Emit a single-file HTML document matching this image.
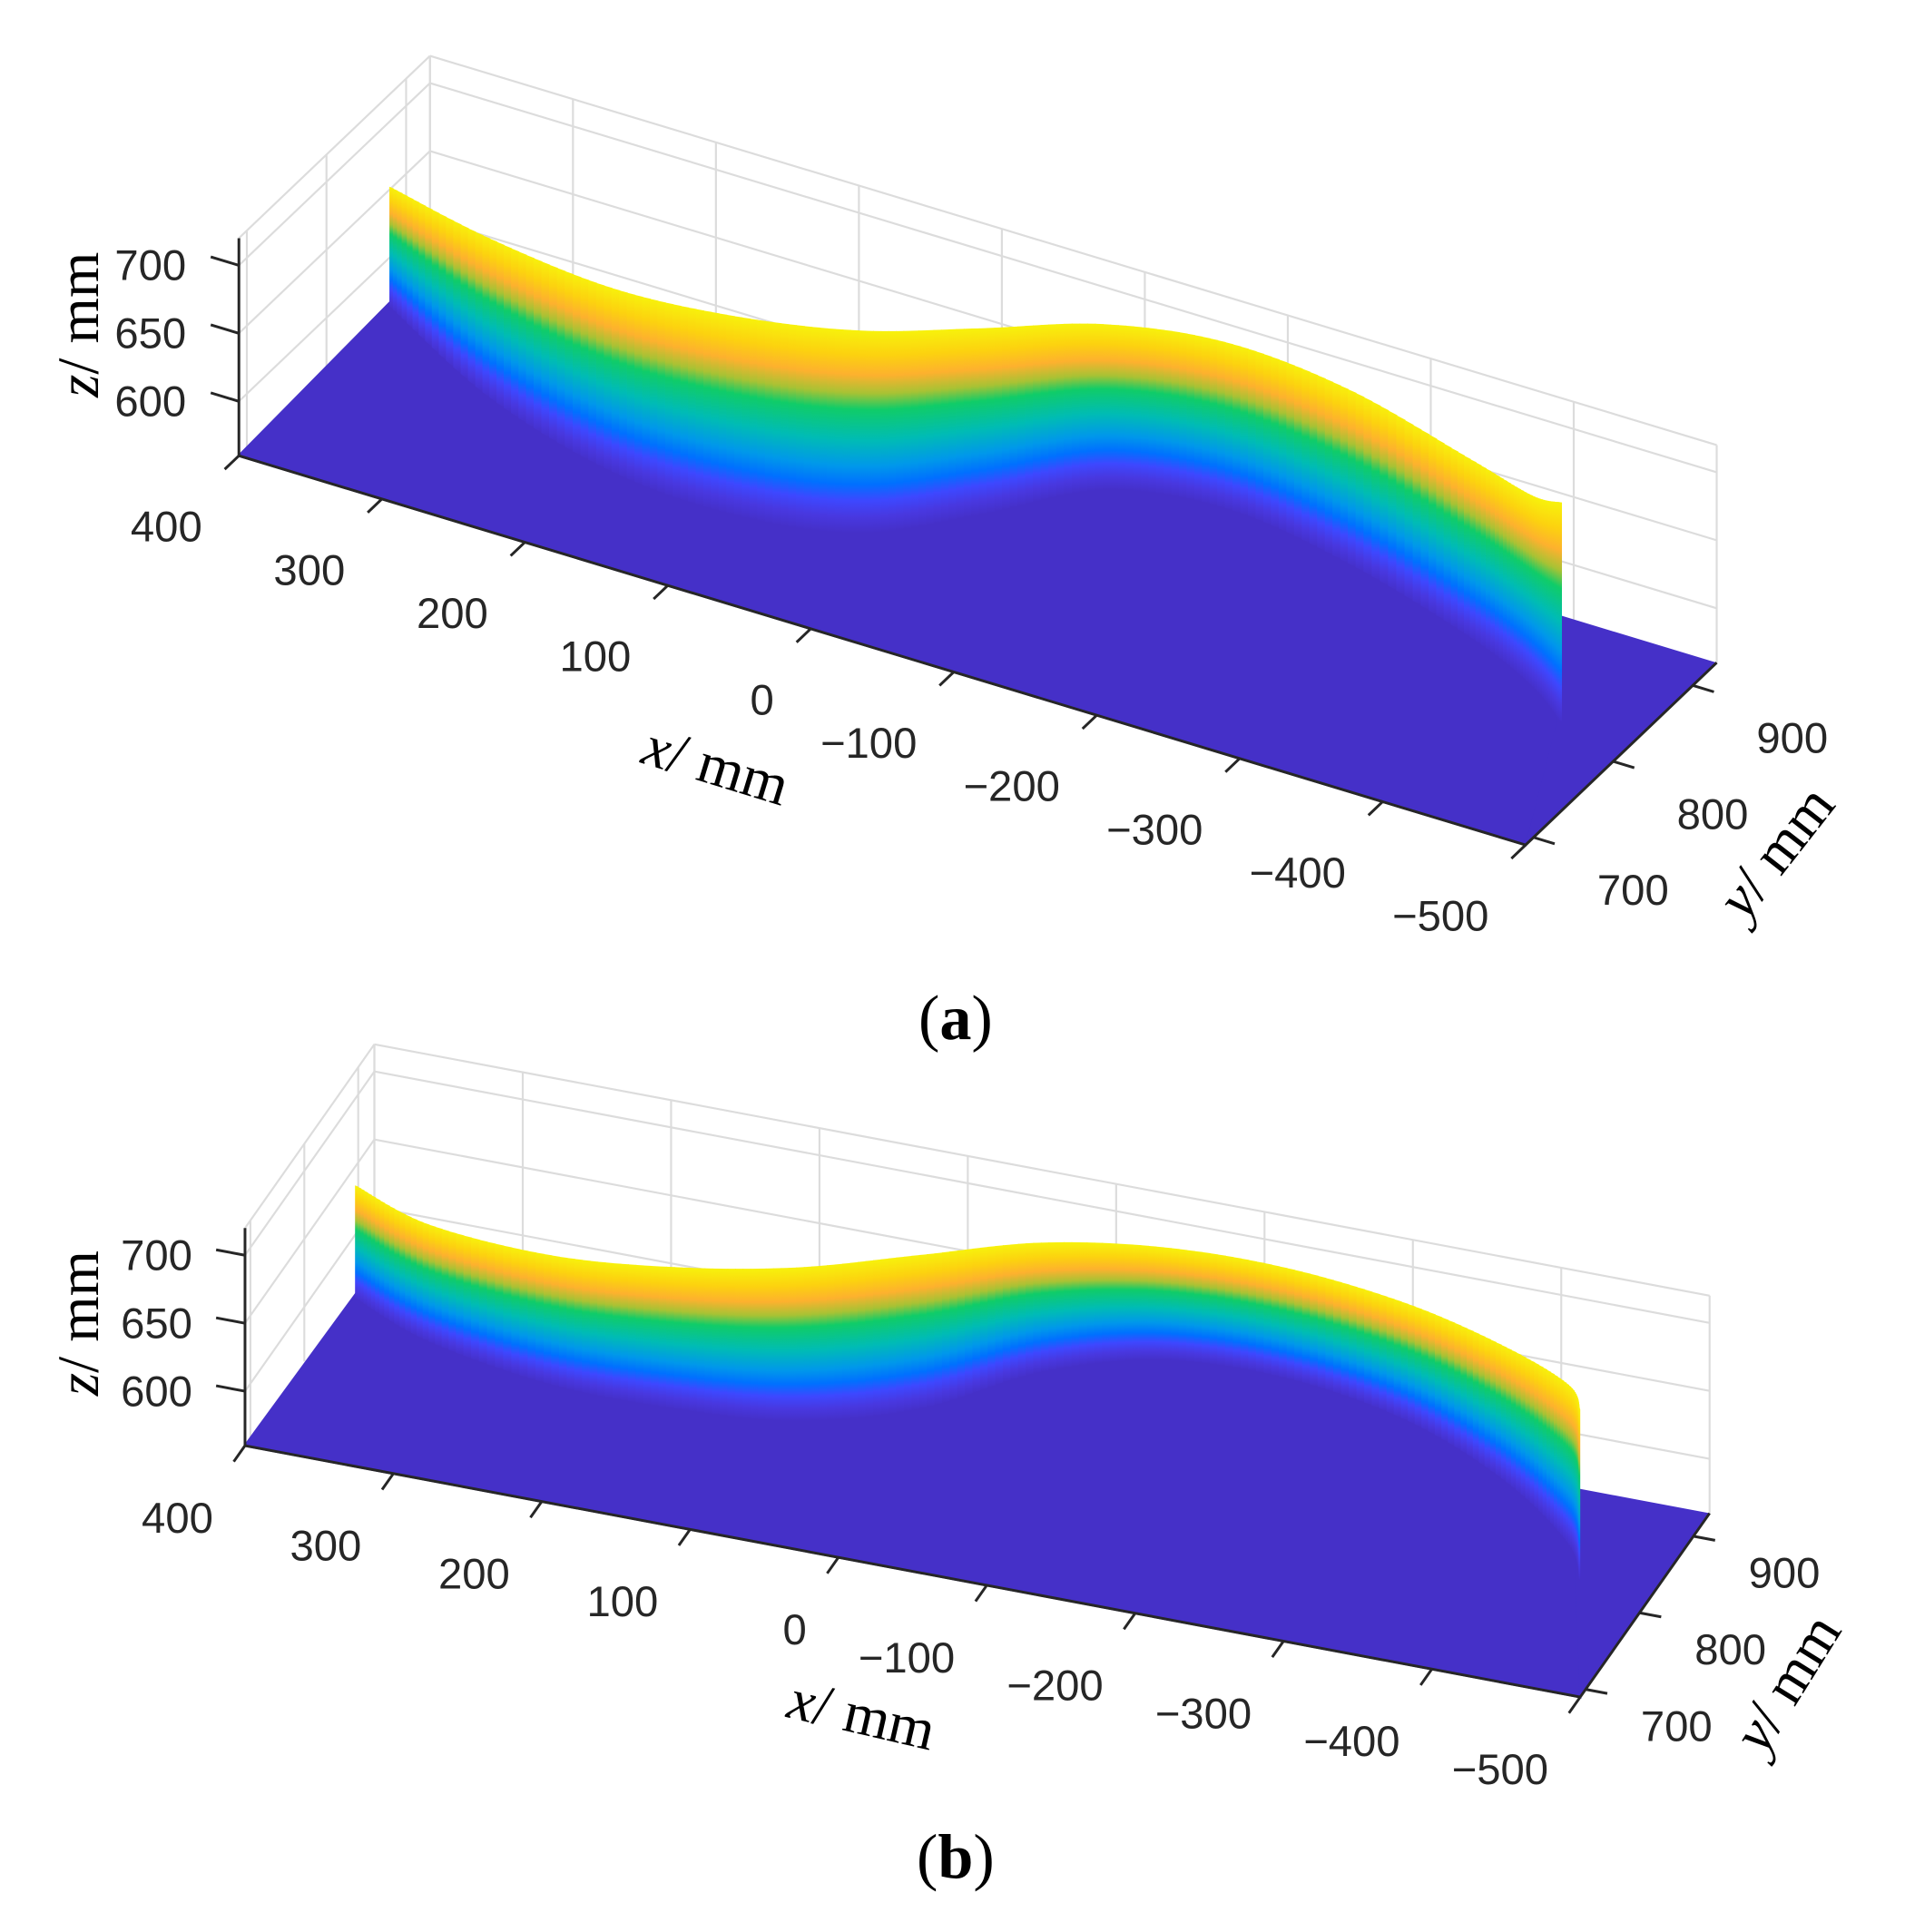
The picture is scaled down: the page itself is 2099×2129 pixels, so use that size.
<!DOCTYPE html>
<html><head><meta charset="utf-8"><style>
html,body{margin:0;padding:0;background:#fff;}
svg{display:block;}
.tk{font-family:"Liberation Sans",sans-serif;font-size:35px;fill:#262626;}
.ttl{font-family:"Liberation Serif",serif;font-size:48px;fill:#000;}
.cap{font-family:"Liberation Serif",serif;font-size:52px;fill:#000;}
</style></head><body>
<svg id="fig" width="2099" height="2129" viewBox="0 0 1555 1577" preserveAspectRatio="none" xmlns="http://www.w3.org/2000/svg">
<defs>
<linearGradient id="cm" x1="0" y1="0" x2="0" y2="1">
<stop offset="0" stop-color="#f7f20c"/><stop offset="0.12" stop-color="#fcd20f"/>
<stop offset="0.22" stop-color="#fdb12e"/><stop offset="0.31" stop-color="#a8c234"/>
<stop offset="0.39" stop-color="#10cc68"/><stop offset="0.54" stop-color="#00bcb4"/>
<stop offset="0.67" stop-color="#0098ea"/><stop offset="0.76" stop-color="#0070ff"/>
<stop offset="0.84" stop-color="#3d48ff"/><stop offset="0.92" stop-color="#4838e0"/>
<stop offset="1" stop-color="#4530c8"/>
</linearGradient>
</defs>
<g id="pa"></g>
<g id="pb"></g>
<text class="cap" x="780" y="848" text-anchor="middle">(<tspan font-weight="bold">a</tspan>)</text>
<text class="cap" x="780" y="1533" text-anchor="middle">(<tspan font-weight="bold">b</tspan>)</text>
</svg>
<script>
// ---- data: panel a ----
const xTicks = [400,300,200,100,0,-100,-200,-300,-400,-500];
const xTickLabels = ["400","300","200","100","0","\u2212100","\u2212200","\u2212300","\u2212400","\u2212500"];
const yTicks = [700,800,900];
const yTickLabels = ["700","800","900"];
const zTicks = [600,650,700];
const zTickLabels = ["600","650","700"];
const aX = [403,299,193,104,28,-26,-78,-153,-249,-355,-415,-451];
const aY = [885,824,787,781,800,855,917,936,918,881,851,823];
const aZ = [648,677,695,706,709,697,682,682,688,691,700,722];
// ---- data: panel b ----
const bX = [396,334,243,160,82,14,-43,-111,-192,-282,-366,-429,-451];
const bY = [884,850,827,826,838,879,948,988,994,971,922,864,824];
const bZ = [643,646,655,664,673,673,655,643,641,646,659,677,686];

const NS = "http://www.w3.org/2000/svg";
function mk(parent, tag, attrs){const e=document.createElementNS(NS,tag);for(const k in attrs)e.setAttribute(k,attrs[k]);parent.appendChild(e);return e;}

function drawPanel(g, cfg, X, Y, Z, pfx){
  const P=(x,y,z)=>[cfg.ox+(400-x)*cfg.ex[0]+(y-690)*cfg.ey[0], cfg.oy+(400-x)*cfg.ex[1]+(y-690)*cfg.ey[1]-(z-560)*cfg.ez];
  const ZF=560, ZT=720, YF=690, YB=930;
  const grid=mk(g,'g',{stroke:'#dcdcdc','stroke-width':1.6,fill:'none'});
  
  
  const line=(par,a,b)=>mk(par,'line',{x1:a[0],y1:a[1],x2:b[0],y2:b[1]});
  xTicks.forEach(x=>line(grid,P(x,YB,ZF),P(x,YB,ZT)));
  zTicks.concat([ZT]).forEach(z=>line(grid,P(400,YB,z),P(-500,YB,z)));
  yTicks.concat([YB]).forEach(y=>line(grid,P(400,y,ZF),P(400,y,ZT)));
  zTicks.concat([ZT]).forEach(z=>line(grid,P(400,YF,z),P(400,YB,z)));
  const top=X.map((x,i)=>P(x,Y[i],Z[i])), bot=X.map((x,i)=>P(x,Y[i],ZF));
  const cr=(pts,n)=>{const out=[];for(let i=0;i<pts.length-1;i++){const p0=pts[Math.max(i-1,0)],p1=pts[i],p2=pts[i+1],p3=pts[Math.min(i+2,pts.length-1)];
    for(let k=0;k<n;k++){const t=k/n,t2=t*t,t3=t2*t;out.push([0,1].map(j=>0.5*((2*p1[j])+(-p0[j]+p2[j])*t+(2*p0[j]-5*p1[j]+4*p2[j]-p3[j])*t2+(-p0[j]+3*p1[j]-3*p2[j]+p3[j])*t3)));}}
    out.push(pts[pts.length-1]);return out;};
  const T=cr(top,16), B=cr(bot,16);
  const last=B[B.length-1];
  // floor (front part + back-right part)
  const f1=[P(400,YF,ZF),P(-500,YF,ZF),[last[0],last[1]+2]].concat(B.slice().reverse().map(p=>[p[0],p[1]-3]));
  const floor=mk(g,'polygon',{points:f1.map(p=>p.join(',')).join(' '),fill:'#4530c8',stroke:'#4530c8','stroke-width':2});
  
  
  const f2=[P(-500,YF,ZF),P(-500,YB,ZF),P(-380,YB,ZF),[last[0]-4,last[1]-60],[last[0]-4,last[1]]];
  const floor2=mk(g,'polygon',{points:f2.map(p=>p.join(',')).join(' '),fill:'#4530c8'});
  
  
  const wall=mk(g,'g',{});
  
  
  for(let i=0;i<T.length-1;i++){
    const a=T[i],b=T[i+1],c=B[i+1],d=B[i];
    const pts=[[a[0]-0.4,a[1]],[b[0]+0.4,b[1]],[c[0]+0.4,c[1]],[d[0]-0.4,d[1]]];
    const q=mk(wall,'polygon',{points:pts.map(p=>p.join(',')).join(' '),fill:'url(#cm)'});
    
    
  }
  const ax=mk(g,'g',{stroke:'#262626','stroke-width':2.2,fill:'none'});
  
  
  line(ax,P(400,YF,ZF),P(-500,YF,ZF));
  line(ax,P(-500,YF,ZF),P(-500,YB,ZF));
  line(ax,P(400,YF,ZF),P(400,YF,ZT));
  const nrm=(v,l)=>{const m=Math.hypot(v[0],v[1]);return [v[0]/m*l,v[1]/m*l];};
  const tx=nrm([-cfg.ey[0],-cfg.ey[1]],16), ty=nrm(cfg.ex,18), tz=nrm([-cfg.ex[0],-cfg.ex[1]],24);
  const labs=mk(g,'g',{class:'tk'});
  
  
  xTicks.forEach((x,i)=>{const p=P(x,YF,ZF);line(ax,p,[p[0]+tx[0],p[1]+tx[1]]);
    const t=mk(labs,'text',{x:p[0]+cfg.xl[0],y:p[1]+cfg.xl[1],'text-anchor':'end'});t.textContent=xTickLabels[i];
    
    });
  yTicks.forEach((y,i)=>{const p=P(-500,y,ZF);line(ax,p,[p[0]+ty[0],p[1]+ty[1]]);
    const t=mk(labs,'text',{x:p[0]+cfg.yl[0],y:p[1]+cfg.yl[1]});t.textContent=yTickLabels[i];
    
    });
  zTicks.forEach((z,i)=>{const p=P(400,YF,z);line(ax,p,[p[0]+tz[0],p[1]+tz[1]]);
    const t=mk(labs,'text',{x:cfg.zl,y:p[1]+12,'text-anchor':'end'});t.textContent=zTickLabels[i];
    
    });
  const ttl=(c,rot,name)=>{const t=mk(g,'text',{class:'ttl',x:0,y:0,'text-anchor':'middle',transform:`translate(${c[0]},${c[1]}) rotate(${rot})`});
    t.innerHTML=`<tspan font-style="italic">${name}</tspan>/ mm`;
    
    };
  ttl(cfg.zt,-90,'z');ttl(cfg.xt,cfg.xr,'x');ttl(cfg.yt,cfg.yr,'y');
}
drawPanel(document.getElementById('pa'),{ox:195,oy:372,ex:[1.167,0.353],ey:[0.65,-0.62],ez:1.11,
  xl:[-30,70],yl:[52,55],zl:152,zt:[80,265],xt:[580,640],xr:17,yt:[1462,705],yr:-52},aX,aY,aZ,'a');
drawPanel(document.getElementById('pb'),{ox:200,oy:1180,ex:[1.211,0.228],ey:[0.44,-0.625],ez:1.11,
  xl:[-26,71],yl:[45,42],zl:157,zt:[80,1080],xt:[700,1415],xr:13,yt:[1472,1382],yr:-58},bX,bY,bZ,'b');
</script>
</body></html>
